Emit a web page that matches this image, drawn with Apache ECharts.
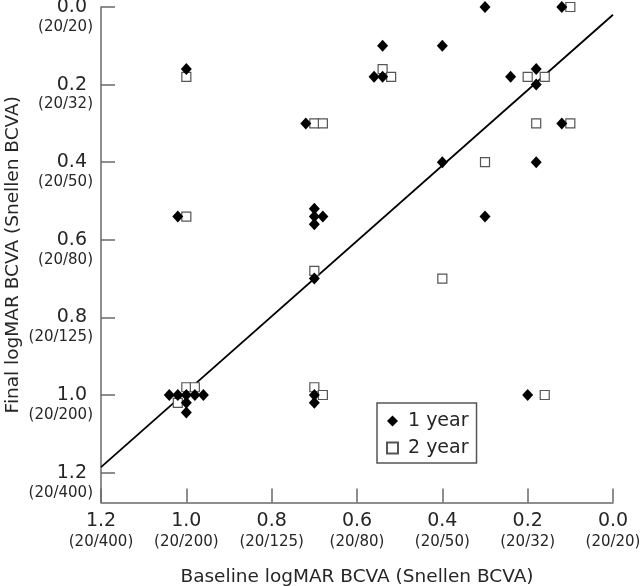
<!DOCTYPE html>
<html>
<head>
<meta charset="utf-8">
<script src="https://cdn.jsdelivr.net/npm/echarts@6/dist/echarts.min.js"></script>
<style>html,body{margin:0;padding:0;background:#fff}#c{width:640px;height:586px}</style>
</head>
<body>
<div id="c"></div>
<script>
// Tick values and Snellen equivalents
var tickValues = [0.0, 0.2, 0.4, 0.6, 0.8, 1.0, 1.2];
var tickSnellen = ['(20/20)', '(20/32)', '(20/50)', '(20/80)', '(20/125)', '(20/200)', '(20/400)'];

// [baseline logMAR, final logMAR]
var year1 = [
  [1.00, 0.16], [0.72, 0.30], [0.30, 0.00], [0.12, 0.00], [0.54, 0.10], [0.40, 0.10],
  [0.56, 0.18], [0.54, 0.18], [0.24, 0.18], [0.18, 0.16], [0.18, 0.20], [0.12, 0.30],
  [0.40, 0.40], [0.18, 0.40], [1.02, 0.54], [0.70, 0.52], [0.70, 0.54], [0.68, 0.54],
  [0.70, 0.56], [0.70, 0.70], [0.30, 0.54], [1.04, 1.00], [1.02, 1.00], [1.00, 1.00],
  [0.98, 1.00], [0.96, 1.00], [1.00, 1.02], [1.00, 1.045], [0.70, 1.00], [0.70, 1.02],
  [0.20, 1.00]
];
var year2 = [
  [1.00, 0.18], [0.70, 0.30], [0.68, 0.30], [0.10, 0.00], [0.54, 0.16], [0.52, 0.18],
  [0.20, 0.18], [0.16, 0.18], [0.18, 0.30], [0.10, 0.30], [0.30, 0.40], [1.00, 0.54],
  [0.70, 0.68], [0.40, 0.70], [1.00, 0.98], [0.98, 0.98], [1.02, 1.02], [0.70, 0.98],
  [0.68, 1.00], [0.16, 1.00]
];
// Reference line endpoints
var refLine = [[1.2, 1.186], [0.0, 0.02]];

function snellenOf(v) {
  var i = Math.round(v / 0.2);
  return tickSnellen[i] || '';
}
var FONT = 'DejaVu Sans';
var chart = echarts.init(document.getElementById('c'), null, {renderer: 'canvas'});
var axisCol = '#6a6a6a';
var txtCol = '#262626';
chart.setOption({
  animation: false,
  backgroundColor: '#fff',
  textStyle: {fontFamily: FONT},
  grid: {left: 101, right: 27, top: 7, bottom: 83.5, outerBoundsMode: 'none', containLabel: false},
  legend: {
    left: 377, top: 403, orient: 'vertical',
    padding: [8, 8, 5, 9],
    borderColor: '#555', borderWidth: 1.5,
    itemWidth: 11, itemHeight: 11, itemGap: 7,
    textStyle: {fontFamily: FONT, fontSize: 19, color: txtCol, lineHeight: 20, padding: [0, 0, 0, 5]},
    data: [{name: '1 year', icon: 'diamond'}, {name: '2 year', icon: 'rect'}]
  },
  xAxis: {
    type: 'value', position: 'bottom', min: 0, max: 1.2, interval: 0.2, inverse: true,
    name: 'Baseline logMAR BCVA (Snellen BCVA)', nameLocation: 'middle', nameGap: 65,
    nameMoveOverlap: false,
    nameTextStyle: {fontFamily: FONT, fontSize: 18.5, color: txtCol},
    splitLine: {show: false},
    axisLine: {onZero: false, lineStyle: {color: axisCol, width: 1.5}},
    axisTick: {inside: true, length: 14, lineStyle: {color: axisCol, width: 1.5}},
    axisLabel: {
      margin: 8, color: txtCol, showMinLabel: true, showMaxLabel: true,
      formatter: function (v) { return '{a|' + v.toFixed(1) + '}\n{b|' + snellenOf(v) + '}'; },
      rich: {
        a: {fontFamily: FONT, fontSize: 19, lineHeight: 22, color: txtCol},
        b: {fontFamily: FONT, fontSize: 15, lineHeight: 20, color: txtCol}
      }
    }
  },
  yAxis: {
    type: 'value', position: 'left', min: 0, max: 1.277, interval: 0.2, inverse: true,
    name: 'Final logMAR BCVA (Snellen BCVA)', nameLocation: 'middle', nameGap: 78,
    nameMoveOverlap: false,
    nameTextStyle: {fontFamily: FONT, fontSize: 18.5, color: txtCol},
    splitLine: {show: false},
    axisLine: {onZero: false, lineStyle: {color: axisCol, width: 1.5}},
    axisTick: {inside: true, length: 14, customValues: tickValues, lineStyle: {color: axisCol, width: 1.5}},
    axisLabel: {
      margin: 8, color: txtCol, align: 'right', customValues: tickValues,
      formatter: function (v) { return '{s| }\n{a|' + v.toFixed(1) + '}\n{b|' + snellenOf(v) + '}'; },
      rich: {
        s: {fontFamily: FONT, fontSize: 15, lineHeight: 18, color: txtCol},
        a: {fontFamily: FONT, fontSize: 19, lineHeight: 22, color: txtCol, padding: [0, 6, 0, 0]},
        b: {fontFamily: FONT, fontSize: 15, lineHeight: 18, color: txtCol}
      }
    }
  },
  series: [
    {
      type: 'line', data: refLine, symbol: 'none', silent: true, z: 1,
      lineStyle: {color: '#000', width: 1.8}
    },
    {
      name: '2 year', type: 'scatter', data: year2, symbol: 'rect', symbolSize: 9, z: 2,
      itemStyle: {color: '#fff', borderColor: '#555', borderWidth: 1.2, opacity: 1}
    },
    {
      name: '1 year', type: 'scatter', data: year1, symbol: 'diamond', symbolSize: [11, 12], z: 3,
      itemStyle: {color: '#000', opacity: 1}
    }
  ]
});
</script>
</body>
</html>
